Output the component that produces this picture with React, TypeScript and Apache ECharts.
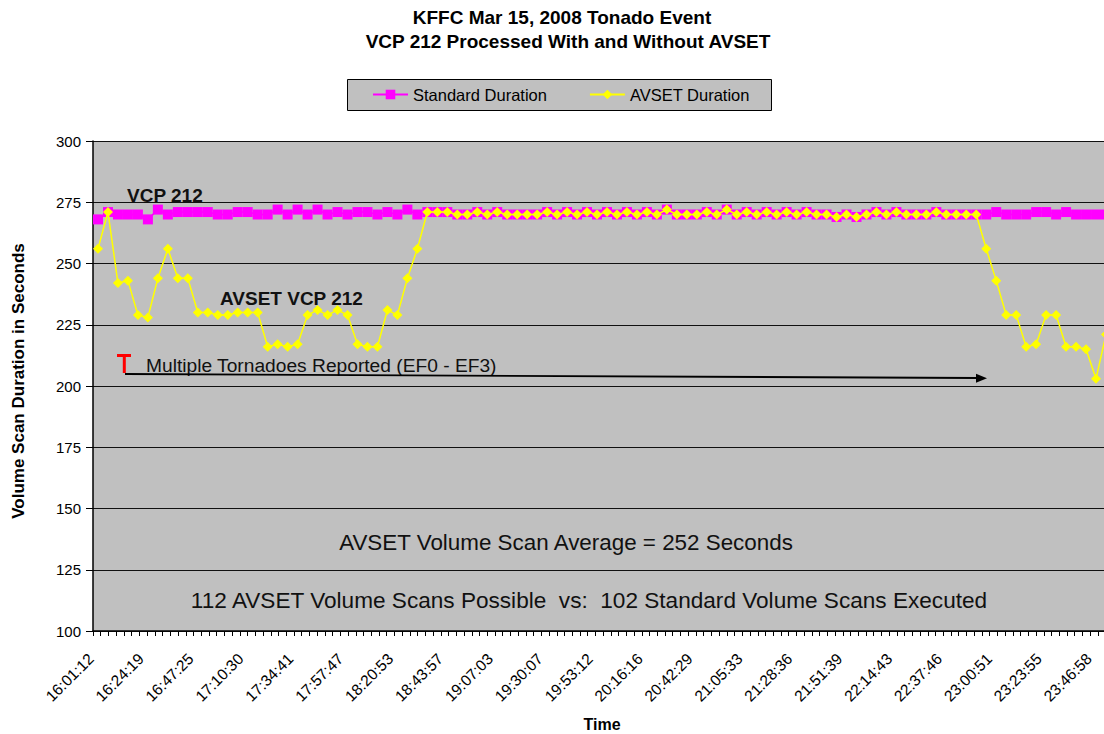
import React, { useEffect, useRef } from "react";
import * as echarts from "echarts";

const FONT = "'Liberation Sans', Arial, sans-serif";

// Every 5th category carries a readable time label
const timeLabels = [
  "16:01:12", "16:24:19", "16:47:25", "17:10:30", "17:34:41", "17:57:47",
  "18:20:53", "18:43:57", "19:07:03", "19:30:07", "19:53:12", "20:16:16",
  "20:42:29", "21:05:33", "21:28:36", "21:51:39", "22:14:43", "22:37:46",
  "23:00:51", "23:23:55", "23:46:58",
];

const standardDuration = [
  268, 271, 270, 270, 270, 268, 272, 270, 271, 271,
  271, 271, 270, 270, 271, 271, 270, 270, 272, 270,
  272, 270, 272, 270, 271, 270, 271, 271, 270, 271,
  270, 272, 270, 271, 271, 271, 270, 270, 271, 270,
  271, 270, 270, 270, 270, 271, 270, 271, 270, 271,
  270, 271, 270, 271, 270, 271, 270, 272, 270, 270,
  270, 271, 270, 272, 270, 271, 270, 271, 270, 271,
  270, 271, 270, 270, 269, 270, 269, 270, 271, 270,
  271, 270, 270, 270, 271, 270, 270, 270, 270, 270,
  271, 270, 270, 270, 271, 271, 270, 271, 270, 270,
  270, 270,
];

const avsetDuration = [
  256, 271, 242, 243, 229, 228, 244, 256, 244, 244,
  230, 230, 229, 229, 230, 230, 230, 216, 217, 216,
  217, 229, 231, 229, 231, 229, 217, 216, 216, 231,
  229, 244, 256, 271, 271, 271, 270, 270, 271, 270,
  271, 270, 270, 270, 270, 271, 270, 271, 270, 271,
  270, 271, 270, 271, 270, 271, 270, 272, 270, 270,
  270, 271, 270, 272, 270, 271, 270, 271, 270, 271,
  270, 271, 270, 270, 269, 270, 269, 270, 271, 270,
  271, 270, 270, 270, 271, 270, 270, 270, 270, 256,
  243, 229, 229, 216, 217, 229, 229, 216, 216, 215,
  203, 221,
];

const categories = standardDuration.map((_, i) =>
  i % 5 === 0 && timeLabels[i / 5] ? timeLabels[i / 5] : ""
);

export default function App() {
  const ref = useRef<HTMLDivElement>(null);

  useEffect(() => {
    if (!ref.current) return;
    const chart = echarts.init(ref.current, undefined, { renderer: "svg" });
    const gridLeft = 93;
    const gridTop = 141;
    const gridHeight = 490;
    const gridWidth = 1018;

    chart.setOption({
      animation: false,
      backgroundColor: "#ffffff",
      textStyle: { fontFamily: FONT },
      grid: {
        left: gridLeft,
        top: gridTop,
        width: gridWidth,
        height: gridHeight,
        show: true,
        backgroundColor: "#c0c0c0",
        borderWidth: 0,
        containLabel: false,
        outerBoundsMode: "none",
      },
      legend: {
        left: 372,
        top: 86,
        padding: 0,
        itemWidth: 35,
        itemHeight: 12,
        itemGap: 42,
        textStyle: { fontSize: 16.5, fontFamily: FONT, color: "#000" },
        data: ["Standard Duration", "AVSET Duration"],
        z: 20,
      },
      xAxis: [
        {
          type: "category",
          data: categories,
          boundaryGap: true,
          axisLine: { show: true, lineStyle: { color: "#000", width: 1.5 } },
          axisTick: { show: false },
          axisLabel: {
            interval: 4,
            rotate: 45,
            fontSize: 15.5,
            fontFamily: FONT,
            color: "#000",
            margin: 18,
            padding: [0, 10, 0, 0],
          },
          splitLine: { show: false },
        },
        {
          type: "value",
          min: 0,
          max: 131.7,
          interval: 1,
          position: "bottom",
          axisLine: { show: false },
          axisLabel: { show: false },
          splitLine: { show: false },
          axisTick: { show: true, length: 5, lineStyle: { color: "#000", width: 1 } },
        },
      ],
      yAxis: {
        type: "value",
        min: 100,
        max: 300,
        interval: 25,
        axisLine: { show: true, lineStyle: { color: "#000", width: 1.5 } },
        axisTick: { show: true, length: 7, lineStyle: { color: "#000" } },
        axisLabel: { fontSize: 15, fontFamily: FONT, color: "#000", margin: 12 },
        splitLine: { show: true, lineStyle: { color: "#111", width: 1 } },
      },
      series: [
        {
          name: "Standard Duration",
          type: "line",
          xAxisIndex: 0,
          data: standardDuration,
          symbol: "rect",
          symbolSize: 10,
          showAllSymbol: true,
          itemStyle: { color: "#ff00ff" },
          lineStyle: { color: "#ff00ff", width: 1.5 },
          z: 2,
        },
        {
          name: "AVSET Duration",
          type: "line",
          xAxisIndex: 0,
          data: avsetDuration,
          symbol: "diamond",
          symbolSize: 10,
          showAllSymbol: true,
          itemStyle: { color: "#ffff00" },
          lineStyle: { color: "#ffff00", width: 1.5 },
          z: 3,
        },
      ],
      graphic: [
        {
          type: "text", x: 562, y: 17, z: 100,
          style: { text: "KFFC Mar 15, 2008 Tonado Event", font: `bold 19px ${FONT}`, fill: "#000", textAlign: "center", textVerticalAlign: "middle" },
        },
        {
          type: "text", x: 568, y: 41, z: 100,
          style: { text: "VCP 212 Processed With and Without AVSET", font: `bold 19px ${FONT}`, fill: "#000", textAlign: "center", textVerticalAlign: "middle" },
        },
        {
          type: "rect", z: 10,
          shape: { x: 347.5, y: 79.5, width: 424, height: 31 },
          style: { fill: "#c0c0c0", stroke: "#000", lineWidth: 1 },
        },
        {
          type: "text", x: 18, y: 381, rotation: Math.PI / 2, z: 100,
          style: { text: "Volume Scan Duration in Seconds", font: `bold 17px ${FONT}`, fill: "#000", textAlign: "center", textVerticalAlign: "middle" },
        },
        {
          type: "text", x: 602, y: 724, z: 100,
          style: { text: "Time", font: `bold 16px ${FONT}`, fill: "#000", textAlign: "center", textVerticalAlign: "middle" },
        },
        {
          type: "text", x: 127, y: 195, z: 100,
          style: { text: "VCP 212", font: `bold 19px ${FONT}`, fill: "#111", textAlign: "left", textVerticalAlign: "middle" },
        },
        {
          type: "text", x: 220, y: 298.5, z: 100,
          style: { text: "AVSET VCP 212", font: `bold 19px ${FONT}`, fill: "#111", textAlign: "left", textVerticalAlign: "middle" },
        },
        {
          type: "line", z: 100,
          shape: { x1: 117, y1: 355.5, x2: 131, y2: 355.5 },
          style: { stroke: "#ff0000", lineWidth: 3 },
        },
        {
          type: "line", z: 100,
          shape: { x1: 124.3, y1: 354, x2: 124.3, y2: 373 },
          style: { stroke: "#ff0000", lineWidth: 3 },
        },
        {
          type: "text", x: 146, y: 365, z: 100,
          style: { text: "Multiple Tornadoes Reported (EF0 - EF3)", font: `19.2px ${FONT}`, fill: "#111", textAlign: "left", textVerticalAlign: "middle" },
        },
        {
          type: "line", z: 100,
          shape: { x1: 125, y1: 374, x2: 978, y2: 378 },
          style: { stroke: "#000", lineWidth: 1.8 },
        },
        {
          type: "polygon", z: 100,
          shape: { points: [[976, 373.8], [987, 378.3], [976, 382.8]] },
          style: { fill: "#000" },
        },
        {
          type: "text", x: 566, y: 542, z: 100,
          style: { text: "AVSET Volume Scan Average = 252 Seconds", font: `22.4px ${FONT}`, fill: "#111", textAlign: "center", textVerticalAlign: "middle" },
        },
        {
          type: "text", x: 589, y: 600, z: 100,
          style: { text: "112 AVSET Volume Scans Possible  vs:  102 Standard Volume Scans Executed", font: `22.6px ${FONT}`, fill: "#111", textAlign: "center", textVerticalAlign: "middle" },
        },
      ],
    });

    return () => chart.dispose();
  }, []);

  return (
    <div
      ref={ref}
      style={{ position: "absolute", left: 0, top: 0, width: 1104, height: 734 }}
    />
  );
}
